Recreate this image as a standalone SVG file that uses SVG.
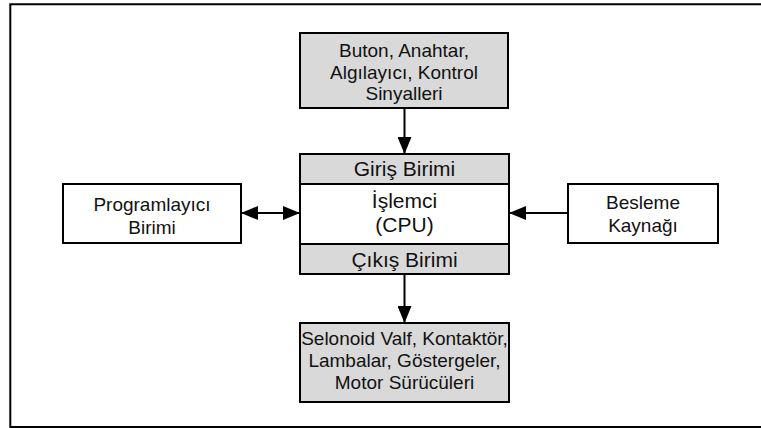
<svg xmlns="http://www.w3.org/2000/svg" width="761" height="428" viewBox="0 0 761 428">
<defs>
<style>
.box{stroke:#000;stroke-width:2}
.g{fill:#d9d9d9}
.w{fill:#fff}
text{font-family:"Liberation Sans",Arial,sans-serif;font-size:19px;fill:#111;text-anchor:middle}
.big{font-size:21px}
.c{stroke:#000;stroke-width:2;fill:none}
</style>
<marker id="ah" markerUnits="userSpaceOnUse" markerWidth="17" markerHeight="14" refX="17" refY="7" orient="auto-start-reverse" viewBox="0 0 17 14">
<path d="M0,0 L17,7 L0,14 Z" fill="#000"/>
</marker>
</defs>
<rect x="0" y="0" width="761" height="428" fill="#fff"/>
<path d="M10.3,428 V4.3 H761" stroke="#000" stroke-width="2" fill="none"/>
<line x1="10" y1="427" x2="761" y2="427" stroke="#000" stroke-width="2"/>
<g id="connectors">
<line class="c" x1="404.5" y1="108" x2="404.5" y2="154" marker-end="url(#ah)"/>
<line class="c" x1="404.5" y1="274" x2="404.5" y2="323" marker-end="url(#ah)"/>
<line class="c" x1="241" y1="213" x2="300" y2="213" marker-start="url(#ah)" marker-end="url(#ah)"/>
<line class="c" x1="568" y1="213" x2="509" y2="213" marker-end="url(#ah)"/>
</g>
<g id="inputs">
<rect class="box g" x="300" y="33" width="208" height="75"/>
<text x="404" y="56.5">Buton, Anahtar,</text>
<text x="404" y="78.5">Algılayıcı, Kontrol</text>
<text x="404" y="100">Sinyalleri</text>
</g>
<g id="cpu">
<rect class="box g" x="300" y="154" width="209" height="30"/>
<rect class="box w" x="300" y="184" width="209" height="60"/>
<rect class="box g" x="300" y="244" width="209" height="30"/>
<text class="big" x="404.5" y="176">Giriş Birimi</text>
<text class="big" x="404.5" y="208">İşlemci</text>
<text class="big" x="404.5" y="232">(CPU)</text>
<text class="big" x="404.5" y="266.5">Çıkış Birimi</text>
</g>
<g id="programmer">
<rect class="box w" x="63" y="184" width="178" height="59"/>
<text x="152" y="210.5">Programlayıcı</text>
<text x="152" y="234">Birimi</text>
</g>
<g id="power">
<rect class="box w" x="568" y="184" width="150" height="59"/>
<text x="643" y="209">Besleme</text>
<text x="643" y="232">Kaynağı</text>
</g>
<g id="outputs">
<rect class="box g" x="300" y="323" width="209" height="79"/>
<text x="404.5" y="345">Selonoid Valf, Kontaktör,</text>
<text x="404.5" y="367">Lambalar, Göstergeler,</text>
<text x="404.5" y="388.5">Motor Sürücüleri</text>
</g>
</svg>
